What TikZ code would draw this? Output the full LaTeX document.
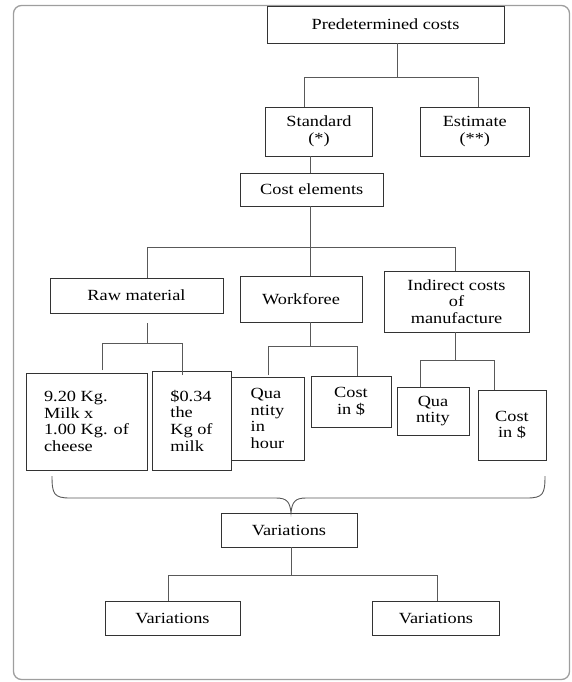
\documentclass[tikz,border=0pt]{standalone}
\usepackage{fontspec}
\setmainfont{Liberation Serif}[FakeStretch=1.18]
\begin{document}
\begin{tikzpicture}[x=1pt,y=-1pt,
  box/.style={draw=black!80, line width=0.95pt, rectangle, inner sep=0pt, text=black,
    font=\fontsize{15.5}{16.7}\selectfont, align=center},
  lbox/.style={box, align=left},
  conn/.style={draw=black!65, line width=0.9pt},
  frame/.style={draw=black!38, line width=1.3pt, rounded corners=8pt}]
\useasboundingbox (0,0) rectangle (571,682);
\draw[frame] (13.5,5.5) rectangle (569.5,679.5);

% boxes
\node[box, minimum width=237pt, minimum height=37pt] (pc) at (385.5,24.5) {Predetermined costs};
\node[box, minimum width=107pt, minimum height=49pt] (std) at (319,131.5) {Standard\\(*)};
\node[box, minimum width=108.5pt, minimum height=49pt] (est) at (474.75,131.5) {Estimate\\(**)};
\node[box, minimum width=143.5pt, minimum height=33pt] (ce) at (311.75,189.5) {Cost elements};
\node[box, minimum width=173pt, minimum height=35pt] (raw) at (136.5,295.5) {Raw material};
\node[box, minimum width=122pt, minimum height=46pt] (wf) at (301,299) {Workforee};
\node[box, minimum width=145pt, minimum height=61pt] (ind) at (456.5,301.5) {Indirect costs\\of\\manufacture};
\node[lbox, minimum width=121pt, minimum height=97pt] (milk) at (86.5,421.5) {9.20 Kg.\\Milk x\\1.00 Kg. of\\cheese};
\node[lbox, minimum width=79pt, minimum height=99pt] (price) at (191.5,420.5) {\$0.34\\the\\Kg of\\milk};
\node[lbox, minimum width=73pt, minimum height=83pt] (qh) at (267.5,418.5) {Qua\\ntity\\in\\hour};
\node[box, minimum width=80pt, minimum height=51pt] (cw) at (351,401.5) {Cost\\in \$};
\node[box, minimum width=72pt, minimum height=48pt] (qi) at (433,411) {Qua\\ntity};
\node[box, minimum width=68pt, minimum height=70pt] (ci) at (512,425) {Cost\\in \$};
\node[box, minimum width=136pt, minimum height=34pt] (var) at (289,530) {Variations};
\node[box, minimum width=135pt, minimum height=34pt] (varL) at (172.5,618) {Variations};
\node[box, minimum width=127pt, minimum height=34pt] (varR) at (436,618) {Variations};

% junction coordinates
\coordinate (j1) at (397,77);
\coordinate (j1a) at (304,77);
\coordinate (j1b) at (478,77);
\coordinate (j2) at (310.7,247);
\coordinate (j2a) at (147.5,247);
\coordinate (j2b) at (455,247);
\coordinate (r0) at (147,323);
\coordinate (j3) at (147,343);
\coordinate (j3a) at (102,343);
\coordinate (j3b) at (182,343);
\coordinate (e3a) at (102,370);
\coordinate (e3b) at (182,375);
\coordinate (j4) at (310,346);
\coordinate (j4a) at (268,346);
\coordinate (j4b) at (357,346);
\coordinate (e4a) at (268,375);
\coordinate (j5) at (455,360);
\coordinate (j5a) at (420,360);
\coordinate (j5b) at (494,360);
\coordinate (j6) at (291,575);
\coordinate (j6a) at (168.5,575);
\coordinate (j6b) at (437,575);
\coordinate (bt) at (291,513);

% connectors
\draw[conn] (pc.south -| j1) -- (j1);
\draw[conn] (std.north -| j1a) -- (j1a) -- (j1b) -- (est.north -| j1b);
\draw[conn] (std.south -| j2) -- (ce.north -| j2);
\draw[conn] (ce.south -| j2) -- (j2);
\draw[conn] (raw.north -| j2a) -- (j2a) -- (j2b) -- (ind.north -| j2b);
\draw[conn] (j2) -- (wf.north -| j2);
\draw[conn] (r0) -- (j3);
\draw[conn] (e3a) -- (j3a) -- (j3b) -- (e3b);
\draw[conn] (wf.south -| j4) -- (j4);
\draw[conn] (e4a) -- (j4a) -- (j4b) -- (cw.north -| j4b);
\draw[conn] (ind.south -| j5) -- (j5);
\draw[conn] (qi.north -| j5a) -- (j5a) -- (j5b) -- (ci.north -| j5b);
\draw[conn] (var.south -| j6) -- (j6);
\draw[conn] (varL.north -| j6a) -- (j6a) -- (j6b) -- (varR.north -| j6b);

% brace
\draw[conn] (52,476) .. controls (52,494) and (54,498) .. (70,498) -- (276,498)
  .. controls (287,498) and (290,502) .. (bt)
  .. controls (292,502) and (295,498) .. (306,498) -- (527,498)
  .. controls (543,498) and (545,494) .. (545,476);
\end{tikzpicture}
\end{document}
